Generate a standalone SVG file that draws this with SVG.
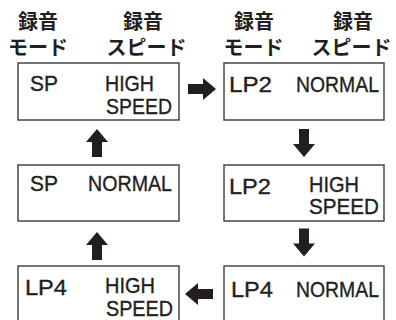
<svg xmlns="http://www.w3.org/2000/svg" width="396" height="320" viewBox="0 0 396 320">
<style>
.bg{fill:#ffffff}
.box{fill:#ffffff;stroke:#3a3a3a;stroke-width:1.4}
.t{font-family:"Liberation Sans",Arial,sans-serif;font-size:21.5px;fill:#231f20;stroke:#231f20;stroke-width:0.35}
.h{font-family:"Noto Sans CJK JP","Noto Sans CJK SC",sans-serif;font-size:20px;font-weight:700;fill:#231f20;text-anchor:middle}
.arr{fill:#231f20}
</style>
<defs>
<path id="arrowR" d="M-14,-5 H1 V-11 L14,0 L1,11 V5 H-14 Z"/>
</defs>
<rect class="bg" x="0" y="0" width="396" height="320"/>
<g id="headers">
<text class="h" x="38" y="28.5">録音</text>
<text class="h" x="38" y="54.5">モード</text>
<text class="h" x="143" y="28.5">録音</text>
<text class="h" x="146.5" y="54.5">スピード</text>
<text class="h" x="254" y="28.5">録音</text>
<text class="h" x="253.5" y="54.5">モード</text>
<text class="h" x="353" y="28.5">録音</text>
<text class="h" x="351.5" y="54.5">スピード</text>
</g>
<g id="node-sp-high">
<rect class="box" x="18" y="63" width="161" height="57"/>
<text class="t" x="30" y="91" textLength="28" lengthAdjust="spacingAndGlyphs">SP</text>
<text class="t" x="105" y="91" textLength="49" lengthAdjust="spacingAndGlyphs">HIGH</text>
<text class="t" x="106" y="114" textLength="66" lengthAdjust="spacingAndGlyphs">SPEED</text>
</g>
<g id="node-lp2-normal">
<rect class="box" x="224" y="63" width="160" height="57"/>
<text class="t" x="229" y="92" textLength="43" lengthAdjust="spacingAndGlyphs">LP2</text>
<text class="t" x="296" y="92" textLength="83" lengthAdjust="spacingAndGlyphs">NORMAL</text>
</g>
<g id="node-sp-normal">
<rect class="box" x="18" y="165" width="161" height="56"/>
<text class="t" x="30" y="191" textLength="28" lengthAdjust="spacingAndGlyphs">SP</text>
<text class="t" x="88" y="191" textLength="84" lengthAdjust="spacingAndGlyphs">NORMAL</text>
</g>
<g id="node-lp2-high">
<rect class="box" x="224" y="165" width="160" height="56"/>
<text class="t" x="229" y="194" textLength="42" lengthAdjust="spacingAndGlyphs">LP2</text>
<text class="t" x="309" y="192" textLength="50" lengthAdjust="spacingAndGlyphs">HIGH</text>
<text class="t" x="309" y="214" textLength="70" lengthAdjust="spacingAndGlyphs">SPEED</text>
</g>
<g id="node-lp4-high">
<rect class="box" x="18" y="266" width="161" height="60"/>
<text class="t" x="25" y="295" textLength="42" lengthAdjust="spacingAndGlyphs">LP4</text>
<text class="t" x="105" y="293" textLength="50" lengthAdjust="spacingAndGlyphs">HIGH</text>
<text class="t" x="106" y="315.5" textLength="67" lengthAdjust="spacingAndGlyphs">SPEED</text>
</g>
<g id="node-lp4-normal">
<rect class="box" x="224" y="266" width="160" height="60"/>
<text class="t" x="231" y="297" textLength="42" lengthAdjust="spacingAndGlyphs">LP4</text>
<text class="t" x="296" y="297" textLength="83" lengthAdjust="spacingAndGlyphs">NORMAL</text>
</g>
<g id="connectors" class="arr">
<use href="#arrowR" transform="translate(202,89)"/>
<use href="#arrowR" transform="translate(304,143) rotate(90)"/>
<use href="#arrowR" transform="translate(304,242.5) rotate(90)"/>
<use href="#arrowR" transform="translate(199,294) rotate(180)"/>
<use href="#arrowR" transform="translate(97,246) rotate(-90)"/>
<use href="#arrowR" transform="translate(97,143) rotate(-90)"/>
</g>
</svg>
